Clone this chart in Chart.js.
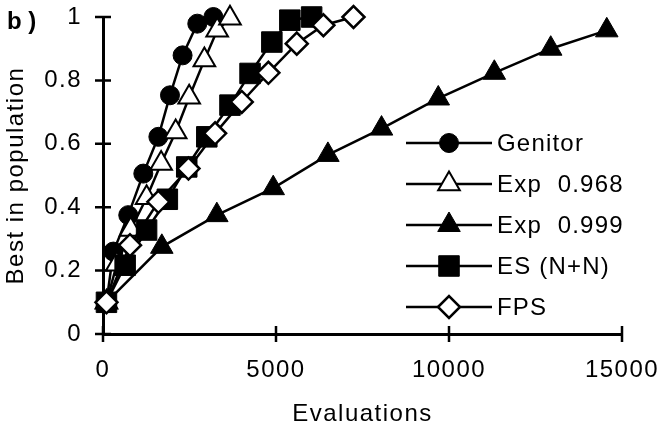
<!DOCTYPE html>
<html>
<head>
<meta charset="utf-8">
<script src="https://cdn.jsdelivr.net/npm/chart.js@4.4.1/dist/chart.umd.min.js"></script>
<style>
    html, body { margin: 0; padding: 0; background: #fff; }
</style>
</head>
<body>
<canvas id="chart" width="661" height="426"></canvas>
<script>
(function () {
    "use strict";

    // values
    const seriesNames = ["Genitor", "Exp  0.968", "Exp  0.999", "ES (N+N)", "FPS"];

    const genitorEvals = [100, 300, 730, 1165, 1600, 1936, 2300, 2725, 3190];
    const genitorBest = [0.1, 0.26, 0.375, 0.506, 0.622, 0.753, 0.879, 0.979, 1.0];

    const exp968Evals = [100, 400, 800, 1260, 1680, 2100, 2490, 2930, 3300, 3670];
    const exp968Best = [0.1, 0.22, 0.33, 0.43, 0.538, 0.637, 0.747, 0.864, 0.958, 0.996];

    const exp999Evals = [100, 1700, 3290, 4920, 6500, 8050, 9690, 11310, 12940, 14560];
    const exp999Best = [0.1, 0.275, 0.375, 0.46, 0.565, 0.648, 0.743, 0.824, 0.9, 0.958];

    const esEvals = [100, 640, 1260, 1860, 2420, 3000, 3670, 4250, 4880, 5400, 6030];
    const esBest = [0.1, 0.217, 0.328, 0.425, 0.527, 0.622, 0.722, 0.822, 0.921, 0.99, 1.0];

    const fpsEvals = [100, 780, 1600, 2470, 3240, 4010, 4780, 5600, 6370, 7240];
    const fpsBest = [0.1, 0.28, 0.417, 0.522, 0.633, 0.732, 0.824, 0.916, 0.974, 1.0];

    const xTickValues = [0, 5000, 10000, 15000];
    const yTickValues = [0, 0.2, 0.4, 0.6, 0.8, 1];

    const FONT = "'Liberation Sans', Arial, Helvetica, sans-serif";
    Chart.defaults.font.family = FONT;
    Chart.defaults.font.size = 24;
    Chart.defaults.color = "#000";

    const pairs = (xs, ys) => xs.map((x, i) => ({ x: x, y: ys[i] }));

    function series(label, xs, ys, style, radius, fill, borderW, order) {
        return {
            label: label,
            data: pairs(xs, ys),
            borderColor: "#000",
            borderWidth: 2.5,
            tension: 0,
            pointStyle: style,
            pointRadius: radius,
            pointHoverRadius: radius,
            pointBackgroundColor: fill,
            pointBorderColor: "#000",
            pointBorderWidth: borderW,
            clip: false,
            order: order,
        };
    }

    // ticks that cross the axis lines
    const crossTicks = {
        id: "crossTicks",
        beforeDatasetsDraw(chart) {
            const ctx = chart.ctx;
            const xs = chart.scales.x;
            const ys = chart.scales.y;
            const area = chart.chartArea;
            ctx.save();
            ctx.strokeStyle = "#000";
            ctx.lineWidth = 2.5;
            ctx.beginPath();
            xs.ticks.forEach((t) => {
                const px = xs.getPixelForValue(t.value);
                ctx.moveTo(px, area.bottom - 8);
                ctx.lineTo(px, area.bottom + 8);
            });
            ys.ticks.forEach((t) => {
                const py = ys.getPixelForValue(t.value);
                ctx.moveTo(area.left - 8, py);
                ctx.lineTo(area.left + 8, py);
            });
            ctx.stroke();
            ctx.restore();
        },
    };

    // legend drawn inside the plot, line + marker + label
    const innerLegend = {
        id: "innerLegend",
        beforeUpdate(chart) {
            chart.ctx.letterSpacing = "1.5px";
        },
        beforeDraw(chart) {
            chart.ctx.letterSpacing = "1.5px";
        },
        afterDraw(chart) {
            const ctx = chart.ctx;
            chart.data.datasets.forEach((ds, i) => {
                const y = 143 + i * 41;
                ctx.save();
                ctx.strokeStyle = "#000";
                ctx.lineWidth = 2.5;
                ctx.beginPath();
                ctx.moveTo(406, y);
                ctx.lineTo(492, y);
                ctx.stroke();
                ctx.fillStyle = ds.pointBackgroundColor;
                ctx.strokeStyle = ds.pointBorderColor;
                ctx.lineWidth = ds.pointBorderWidth;
                Chart.helpers.drawPoint(ctx, {
                    pointStyle: ds.pointStyle,
                    radius: ds.pointRadius,
                    rotation: 0,
                    borderWidth: ds.pointBorderWidth,
                }, 449, y);
                ctx.fillStyle = "#000";
                ctx.font = "24px " + FONT;
                ctx.letterSpacing = "1.2px";
                ctx.textAlign = "left";
                ctx.textBaseline = "middle";
                ctx.fillText(ds.label, 497, y + 1);
                ctx.restore();
            });

            // panel letter
            ctx.save();
            ctx.fillStyle = "#000";
            ctx.font = "bold 24px " + FONT;
            ctx.letterSpacing = "0px";
            ctx.textAlign = "left";
            ctx.textBaseline = "alphabetic";
            ctx.fillText("b )", 7, 29);
            ctx.restore();
        },
    };

    new Chart(document.getElementById("chart"), {
        type: "line",
        data: {
            datasets: [
                series(seriesNames[0], genitorEvals, genitorBest, "circle", 9.5, "#000", 1, 4),
                series(seriesNames[1], exp968Evals, exp968Best, "triangle", 12.5, "#fff", 2, 3),
                series(seriesNames[2], exp999Evals, exp999Best, "triangle", 13, "#000", 1, 2),
                series(seriesNames[3], esEvals, esBest, "rect", 14.5, "#000", 1, 1),
                series(seriesNames[4], fpsEvals, fpsBest, "rectRot", 11, "#fff", 2.5, 0),
            ],
        },
        options: {
            responsive: false,
            animation: false,
            events: [],
            layout: {
                padding: { left: 0, top: 17, right: 39, bottom: 0 },
            },
            plugins: {
                legend: { display: false },
                tooltip: { enabled: false },
            },
            scales: {
                x: {
                    type: "linear",
                    min: 0,
                    max: 15000,
                    afterBuildTicks: (s) => {
                        s.ticks = xTickValues.map((v) => ({ value: v }));
                    },
                    afterFit: (s) => {
                        s.height = 92;
                        s.paddingLeft = 0;
                        s.paddingRight = 0;
                    },
                    ticks: {
                        maxRotation: 0,
                        padding: 22,
                        callback: (v) => String(v),
                    },
                    grid: { display: false, drawTicks: false },
                    border: { display: true, color: "#000", width: 3 },
                    title: {
                        display: true,
                        text: "Evaluations",
                        font: { size: 24, lineHeight: 1 },
                        padding: { top: 0, bottom: 0 },
                    },
                },
                y: {
                    type: "linear",
                    min: 0,
                    max: 1,
                    afterBuildTicks: (s) => {
                        s.ticks = yTickValues.map((v) => ({ value: v }));
                    },
                    afterFit: (s) => {
                        s.width = 103;
                        s.paddingTop = 0;
                        s.paddingBottom = 0;
                    },
                    ticks: {
                        padding: 21,
                        callback: (v) => String(v),
                    },
                    grid: { display: false, drawTicks: false },
                    border: { display: true, color: "#000", width: 3 },
                    title: {
                        display: true,
                        text: "Best in population",
                        font: { size: 24, lineHeight: 1.2 },
                        padding: { top: 2, bottom: 0 },
                    },
                },
            },
        },
        plugins: [crossTicks, innerLegend],
    });
})();
</script>
</body>
</html>
